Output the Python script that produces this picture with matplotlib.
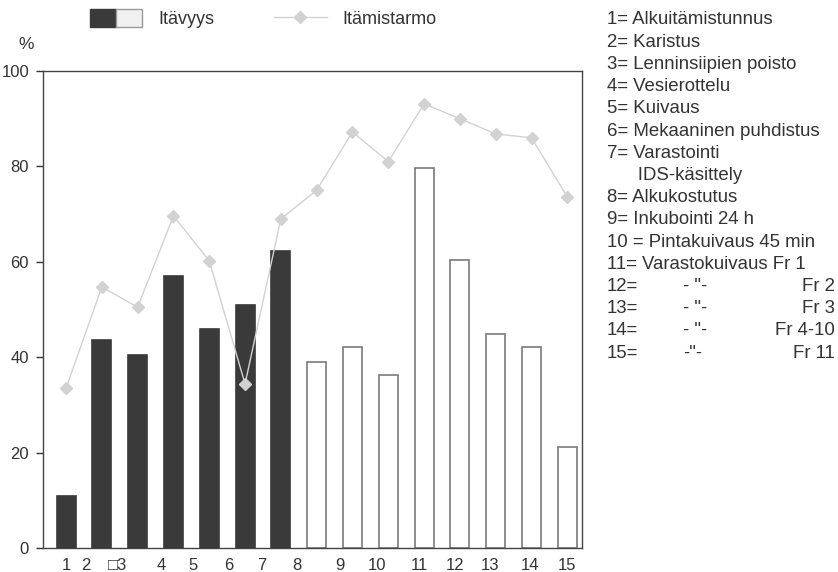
import matplotlib.pyplot as plt
from matplotlib.patches import Patch
from matplotlib.lines import Line2D
from matplotlib.legend_handler import HandlerTuple

plt.rcParams["font.family"] = ["Liberation Sans", "DejaVu Sans"]

# data
steps = list(range(1, 16))
itavyys = [10.9, 43.5, 40.5, 57.0, 46.0, 51.0, 62.3, 39.0, 42.2, 36.3, 79.7, 60.4, 44.9, 42.2, 21.2]
itamistarmo = [33.5, 54.7, 50.5, 69.6, 60.2, 34.4, 69.0, 75.0, 87.2, 81.0, 93.1, 90.0, 86.8, 86.0, 73.6]
n_dark = 7  # steps 1-7 drawn as dark bars

# x labels as they sit in the scan (slightly off the bar centres)
tick_labels = ["1", "2", "\u25a13", "4", "5", "6", "7", "8", "9", "10", "11", "12", "13", "14", "15"]
tick_pos = [1.0, 1.56, 2.45, 3.65, 4.55, 5.55, 6.47, 7.46, 8.66, 9.69, 10.86, 11.87, 12.84, 13.95, 14.99]

explain = [
    "1= Alkuitämistunnus",
    "2= Karistus",
    "3= Lenninsiipien poisto",
    "4= Vesierottelu",
    "5= Kuivaus",
    "6= Mekaaninen puhdistus",
    "7= Varastointi",
    "      IDS-käsittely",
    "8= Alkukostutus",
    "9= Inkubointi 24 h",
    "10 = Pintakuivaus 45 min",
    "11= Varastokuivaus Fr 1",
]
ditto_rows = [("12=", '- "-', "Fr 2"), ("13=", '- "-', "Fr 3"),
              ("14=", '- "-', "Fr 4-10"), ("15=", '-"-', "Fr 11")]

dark = "#3a3a3a"
edge_light = "#7a7a7a"
line_col = "#d2d2d2"
text_col = "#333333"

fig = plt.figure(figsize=(8.38, 5.72), dpi=100)
ax = fig.add_axes([0.0513, 0.042, 0.6432, 0.8339])

colors = [dark if s <= n_dark else "white" for s in steps]
edges = [dark if s <= n_dark else edge_light for s in steps]
ax.bar(steps, itavyys, width=0.53, color=colors, edgecolor=edges, linewidth=1.2, zorder=2)
ax.plot(steps, itamistarmo, color=line_col, lw=1.0, marker="D", markersize=6,
        markerfacecolor=line_col, markeredgecolor=line_col, zorder=3)

ax.set_xlim(0.357, 15.41)
ax.set_ylim(0, 100)
ax.set_yticks(range(0, 101, 20))
ax.set_xticks(tick_pos)
ax.set_xticklabels(tick_labels)
ax.tick_params(axis="x", length=0, pad=7, labelsize=12, colors=text_col)
ax.tick_params(axis="y", length=5, width=1, direction="out", pad=5,
               labelsize=12, colors=text_col)
for sp in ax.spines.values():
    sp.set_color("#444444")
    sp.set_linewidth(1.0)

fig.text(0.022, 0.915, "%", fontsize=12.5, color=text_col)

# legend: two-tone bar patch + line with diamond
bar_handle = (Patch(facecolor=dark, edgecolor=dark), Patch(facecolor="#f0f0f0", edgecolor="#999999"))
line_handle = Line2D([], [], color=line_col, lw=1.0, marker="D", markersize=6,
                     markerfacecolor=line_col, markeredgecolor=line_col)
fig.legend([bar_handle, line_handle], ["Itävyys", "Itämistarmo"],
           handler_map={tuple: HandlerTuple(ndivide=None, pad=0)},
           loc="upper left", bbox_to_anchor=(0.088, 1.012), ncol=2, frameon=False,
           fontsize=13, handlelength=2.9, handleheight=1.15, handletextpad=0.9,
           columnspacing=3.3, labelcolor=text_col)

# explanation list on the right
x0 = 607 / 838
y0 = 1 - 20 / 572
dy = 22.2 / 572
fs = 13.4
for i, t in enumerate(explain):
    fig.text(x0, y0 - i * dy, t, fontsize=fs, color=text_col, va="center")
for j, (a, b, c) in enumerate(ditto_rows):
    y = y0 - (len(explain) + j) * dy
    fig.text(x0, y, a, fontsize=fs, color=text_col, va="center")
    fig.text(683 / 838, y, b, fontsize=fs, color=text_col, va="center")
    fig.text(835 / 838, y, c, fontsize=fs, color=text_col, va="center", ha="right")

fig.savefig("out.png", dpi=100)
